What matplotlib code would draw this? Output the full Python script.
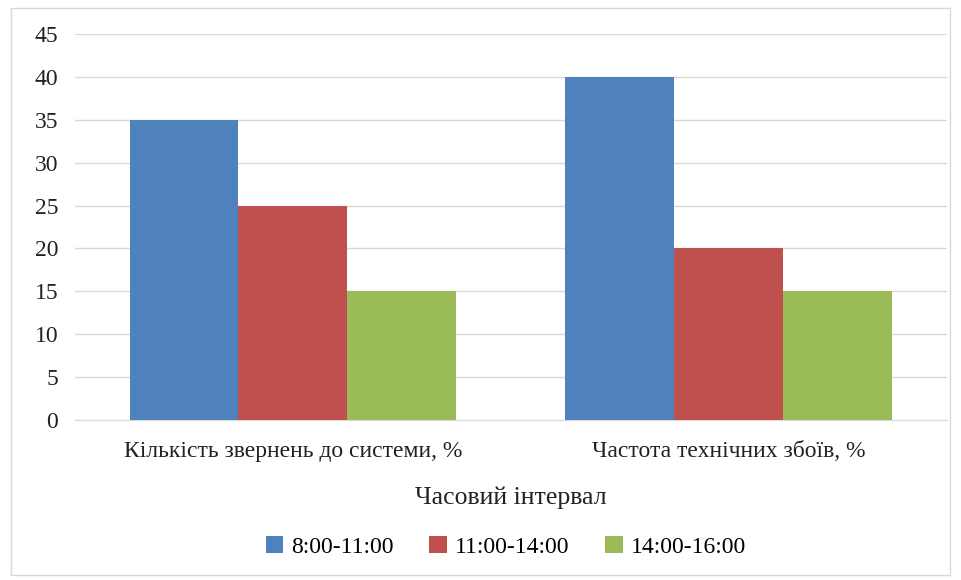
import numpy as np
import matplotlib.pyplot as plt
from matplotlib.patches import Rectangle

plt.rcParams['font.family'] = ['Liberation Serif', 'DejaVu Serif']

# data
categories = ["Кількість звернень до системи, %", "Частота технічних збоїв, %"]
series_names = ["8:00-11:00", "11:00-14:00", "14:00-16:00"]
series_values = [
    [35, 40],
    [25, 20],
    [15, 15],
]
colors = ["#4F81BD", "#C0504D", "#9BBB59"]

fig = plt.figure(figsize=(9.62, 5.80), dpi=100)
ax = fig.add_axes([0.078, 0.276, 0.906, 0.665])

# light frame around the whole chart
fig.patches.append(Rectangle((0.011, 0.008), 0.977, 0.978, transform=fig.transFigure,
                             fill=False, edgecolor="#D9D9D9", linewidth=1))

x = np.arange(len(categories))
width = 0.25
for i, (name, vals) in enumerate(zip(series_names, series_values)):
    ax.bar(x + (i - 1) * width, vals, width, color=colors[i], label=name, zorder=3)

ax.set_xlim(-0.5, 1.5)
ax.set_ylim(0, 45)
ax.set_yticks(range(0, 50, 5))
ax.set_xticks(x)
ax.set_xticklabels(categories)
ax.tick_params(axis="both", length=0, labelsize=17, colors="#222222")
ax.tick_params(axis="x", pad=15)
ax.tick_params(axis="y", pad=12)
ax.grid(axis="y", color="#D9D9D9", linewidth=1, zorder=0)
for s in ["top", "right", "left"]:
    ax.spines[s].set_visible(False)
ax.spines["bottom"].set_color("#D9D9D9")

ax.set_xlabel("Часовий інтервал", fontsize=18.5, labelpad=18, color="#222222")

fig.legend(loc="center", bbox_to_anchor=(0.526, 0.057), ncol=3, frameon=False,
           fontsize=17, handlelength=0.75, handleheight=0.75, handletextpad=0.35,
           columnspacing=1.5)

fig.savefig("out.png", dpi=100)
